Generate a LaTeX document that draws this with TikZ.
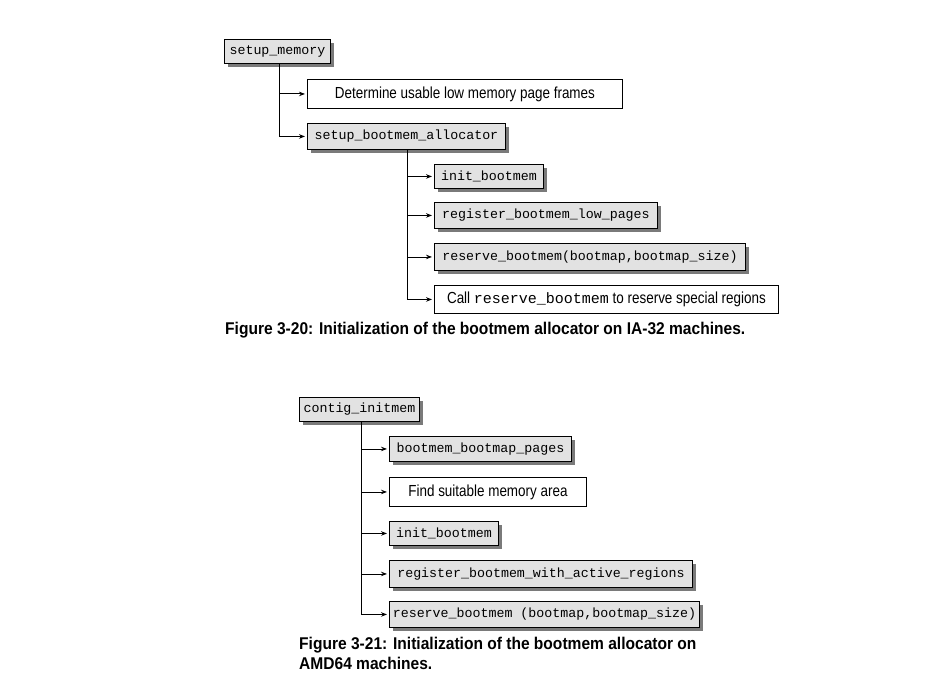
\documentclass[tikz,border=0pt]{standalone}
\usepackage{fontspec}
\setmainfont{Liberation Sans}
\newfontfamily\boxfont{Liberation Sans}[FakeStretch=0.84]
\newfontfamily\capfont{Liberation Sans}[FakeStretch=0.915]
\newfontfamily\codefont{Liberation Mono}
\usetikzlibrary{shadows,arrows.meta}
\definecolor{boxgrey}{HTML}{E2E2E2}
\definecolor{shadowgrey}{HTML}{7A7A7A}
\tikzset{
  fnbox/.style={draw=black, line width=0.9pt, fill=boxgrey, anchor=north west,
    inner sep=0pt, font=\codefont\fontsize{13.3}{13.3}\selectfont,
    drop shadow={shadow xshift=3.5pt, shadow yshift=-3.5pt, fill=shadowgrey, opacity=1}},
  txtbox/.style={draw=black, line width=0.9pt, fill=white, anchor=north west,
    inner sep=0pt, font=\boxfont\fontsize{16}{16}\selectfont},
  conn/.style={line width=0.9pt, -{Stealth[length=6pt,width=4.5pt]}, shorten >=2pt},
  captxt/.style={anchor=west, inner sep=0pt, align=left,
    font=\capfont\bfseries\fontsize{17}{20}\selectfont}
}
\begin{document}
\begin{tikzpicture}[x=1pt,y=-1pt]
\useasboundingbox (0,0) rectangle (941,698);
% ---- Figure 3-20 ----
\node[fnbox, minimum width=106pt, minimum height=24pt] (sm) at (224,39) {setup\_memory};
\node[txtbox, minimum width=315pt, minimum height=29pt] (det) at (307,79) {Determine usable low memory page frames};
\node[fnbox, minimum width=198pt, minimum height=26pt] (sba) at (307,123) {setup\_bootmem\_allocator};
\node[fnbox, minimum width=109pt, minimum height=24pt] (ib1) at (434,164) {init\_bootmem};
\node[fnbox, minimum width=223pt, minimum height=26pt] (rbl) at (434,202) {register\_bootmem\_low\_pages};
\node[fnbox, minimum width=311pt, minimum height=27pt] (rb1) at (434,243) {reserve\_bootmem(bootmap,bootmap\_size)};
\node[txtbox, minimum width=344pt, minimum height=28pt] (call) at (434,285) {Call {\codefont\fontsize{15}{15}\selectfont reserve\_bootmem} to reserve special regions};
\draw[conn] ([xshift=2pt]sm.south) |- (det.west);
\draw[conn] ([xshift=2pt]sm.south) |- (sba.west);
\draw[conn] ([xshift=1pt]sba.south) |- (ib1.west);
\draw[conn] ([xshift=1pt]sba.south) |- (rbl.west);
\draw[conn] ([xshift=1pt]sba.south) |- (rb1.west);
\draw[conn] ([xshift=1pt]sba.south) |- (call.west);
\node[captxt] (cap1) at (225,330) {Figure 3-20: Initialization of the bootmem allocator on IA-32 machines.};
% ---- Figure 3-21 ----
\node[fnbox, minimum width=120pt, minimum height=24pt] (ci) at (299,397) {contig\_initmem};
\node[fnbox, minimum width=182pt, minimum height=25pt] (bbp) at (389,436) {bootmem\_bootmap\_pages};
\node[txtbox, minimum width=197pt, minimum height=29pt] (find) at (389,477) {Find suitable memory area};
\node[fnbox, minimum width=109pt, minimum height=24pt] (ib2) at (389,521) {init\_bootmem};
\node[fnbox, minimum width=303pt, minimum height=27pt] (rwa) at (389,560) {register\_bootmem\_with\_active\_regions};
\node[fnbox, minimum width=310pt, minimum height=26pt] (rb2) at (389,601) {reserve\_bootmem (bootmap,bootmap\_size)};
\draw[conn] ([xshift=2pt]ci.south) |- (bbp.west);
\draw[conn] ([xshift=2pt]ci.south) |- (find.west);
\draw[conn] ([xshift=2pt]ci.south) |- (ib2.west);
\draw[conn] ([xshift=2pt]ci.south) |- (rwa.west);
\draw[conn] ([xshift=2pt]ci.south) |- (rb2.west);
\node[captxt, anchor=north west] (cap2) at (299,637) {Figure 3-21: Initialization of the bootmem allocator on\\AMD64 machines.};
\end{tikzpicture}
\end{document}
